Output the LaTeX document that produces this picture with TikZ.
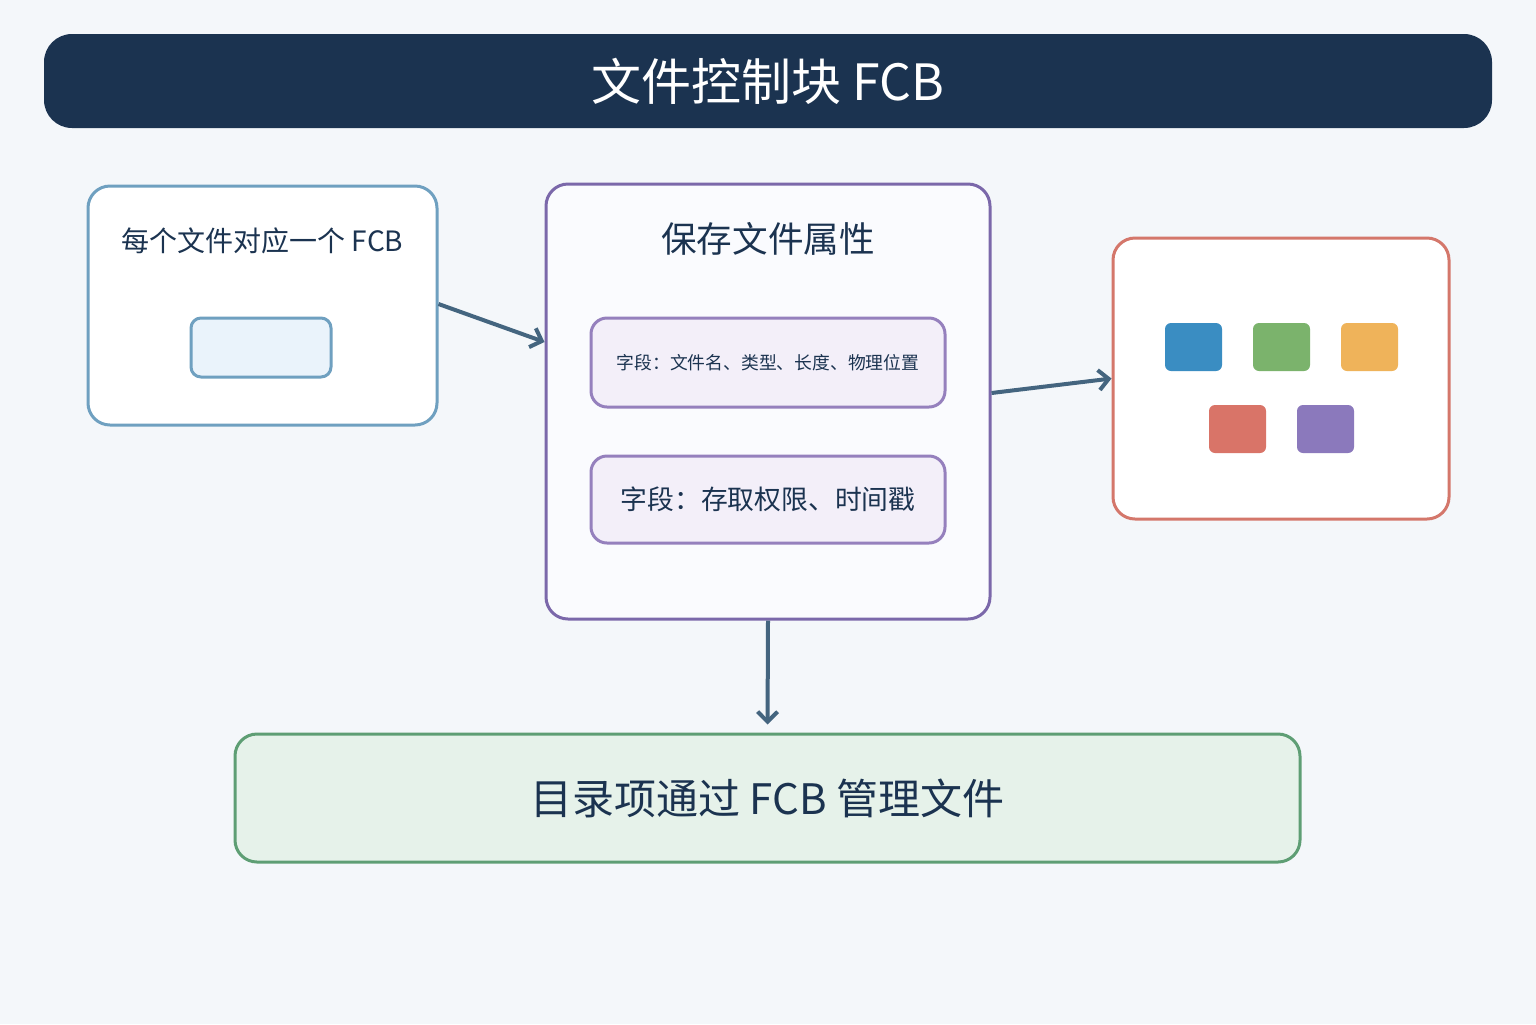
\documentclass[tikz,border=0pt]{standalone}
\usepackage{fontspec}
\setmainfont{Noto Sans CJK SC}
\usetikzlibrary{arrows.meta}
\definecolor{bgc}{HTML}{F4F7FA}
\definecolor{navy}{HTML}{1B3350}
\definecolor{bluegrey}{HTML}{6FA0C0}
\definecolor{lightblue}{HTML}{EAF3FB}
\definecolor{purp}{HTML}{7B68AA}
\definecolor{purpfield}{HTML}{9580BD}
\definecolor{lavender}{HTML}{F3EFF9}
\definecolor{midfill}{HTML}{FAFBFE}
\definecolor{redb}{HTML}{D4776B}
\definecolor{greenb}{HTML}{5E9E74}
\definecolor{greenfill}{HTML}{E6F2EA}
\definecolor{arrowc}{HTML}{44657F}
\definecolor{sqblue}{HTML}{3A8DC2}
\definecolor{sqgreen}{HTML}{7BB36C}
\definecolor{sqorange}{HTML}{EFB35A}
\definecolor{sqred}{HTML}{D97468}
\definecolor{sqpurple}{HTML}{8B79BC}
\tikzset{
  box/.style={draw, rectangle, rounded corners=11pt, line width=1.5pt, inner sep=0pt},
  field/.style={box, draw=purpfield, fill=lavender, rounded corners=8pt, minimum width=177pt, text=navy},
  sq/.style={rectangle, rounded corners=3pt, minimum width=28.5pt, minimum height=24pt, inner sep=0pt},
  conn/.style={draw=arrowc, line width=2pt, -{Straight Barb[length=5pt,width=10pt,line width=2pt]}},
}
\begin{document}
\begin{tikzpicture}[x=0.5pt,y=-0.5pt]
\useasboundingbox[fill=bgc] (0,0) rectangle (1536,1024);
\node[rectangle, rounded corners=14pt, fill=navy, minimum width=724pt, minimum height=47pt, inner sep=0pt,
  text=white, font=\fontsize{25}{30}\selectfont] (title) at (768,81) {文件控制块 FCB};
\node[box, draw=bluegrey, fill=white, minimum width=174.5pt, minimum height=119.5pt] (lb) at (262.5,305.5) {};
\node[text=navy, font=\fontsize{14}{17}\selectfont] (lt) at (262.5,241) {每个文件对应一个 FCB};
\node[box, draw=bluegrey, fill=lightblue, rounded corners=5pt, minimum width=70pt, minimum height=29.5pt] (inner) at (261,347.5) {};
\node[box, draw=purp, fill=midfill, minimum width=222pt, minimum height=217.5pt] (mb) at (768,401.5) {};
\node[text=navy, font=\fontsize{17.8}{21}\selectfont] (mt) at (768,239) {保存文件属性};
\node[field, minimum height=44.5pt, font=\fontsize{8.9}{11}\selectfont] (f1) at (768,362.5) {字段：文件名、类型、长度、物理位置};
\node[field, minimum height=43.5pt, font=\fontsize{13.4}{16}\selectfont] (f2) at (768,499.5) {字段：存取权限、时间戳};
\node[box, draw=redb, fill=white, minimum width=168pt, minimum height=140.5pt] (rb) at (1281,378.5) {};
\node[sq, fill=sqblue] (s1) at (1193.5,347) {};
\node[sq, fill=sqgreen] (s2) at (1281.5,347) {};
\node[sq, fill=sqorange] (s3) at (1369.5,347) {};
\node[sq, fill=sqred] (s4) at (1237.5,429) {};
\node[sq, fill=sqpurple] (s5) at (1325.5,429) {};
\node[box, draw=greenb, fill=greenfill, minimum width=532.5pt, minimum height=64pt, text=navy,
  font=\fontsize{21}{25}\selectfont] (bb) at (767.5,798) {目录项通过 FCB 管理文件};
\draw[conn] ([yshift=0.75pt]lb.east) -- ([yshift=29.75pt]mb.west);
\draw[conn] ([yshift=4.25pt]mb.east) -- (rb.west);
\draw[conn, shorten >=4pt] (mb.south) -- (bb.north);
\end{tikzpicture}
\end{document}
